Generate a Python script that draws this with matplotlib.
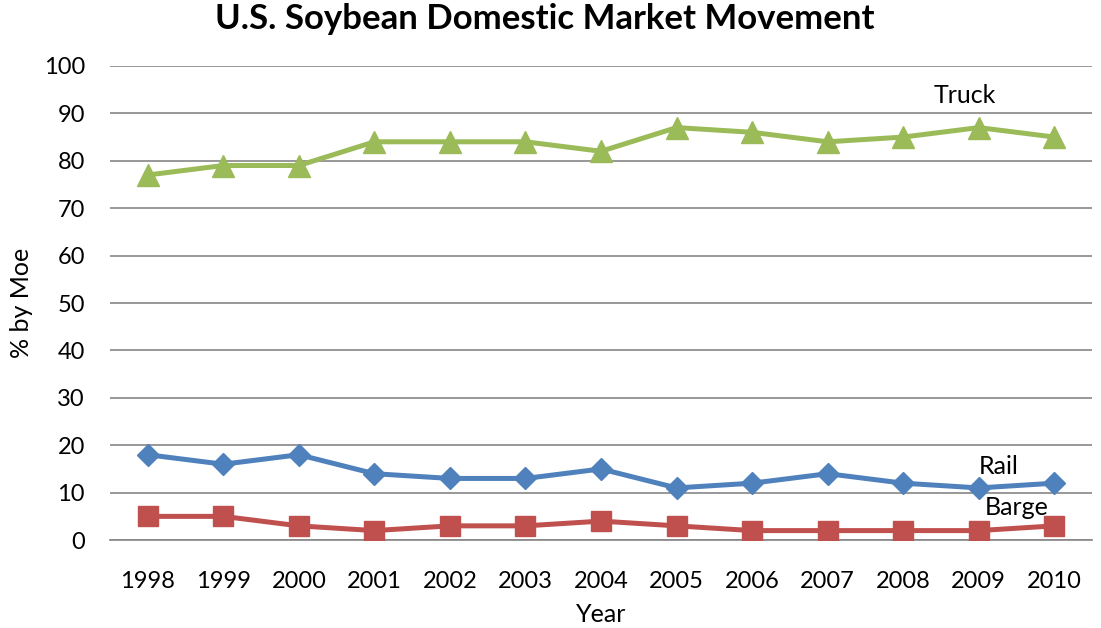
import matplotlib.pyplot as plt

plt.rcParams['font.family'] = ['Lato', 'DejaVu Sans']

# Дані
years = ['1998', '1999', '2000', '2001', '2002', '2003', '2004',
         '2005', '2006', '2007', '2008', '2009', '2010']
truck = [77, 79, 79, 84, 84, 84, 82, 87, 86, 84, 85, 87, 85]
rail = [18, 16, 18, 14, 13, 13, 15, 11, 12, 14, 12, 11, 12]
barge = [5, 5, 3, 2, 3, 3, 4, 3, 2, 2, 2, 2, 3]

fig = plt.figure(figsize=(11.01, 6.28), dpi=100)
ax = fig.add_axes([0.0999, 0.140, 0.892, 0.755])

x = range(len(years))
ax.plot(x, rail, color='#4F81BD', lw=3.6, marker='D', ms=11, zorder=3)
ax.plot(x, barge, color='#C0504D', lw=3.6, marker='s', ms=14, zorder=3)
ax.plot(x, truck, color='#9BBB59', lw=3.6, marker='^', ms=16, zorder=3)

# підписи серій
ax.text(10.82, 93.7, 'Truck', fontsize=18, ha='center', va='center')
ax.text(11.26, 15.6, 'Rail', fontsize=18, ha='center', va='center')
ax.text(11.5, 6.9, 'Barge', fontsize=18, ha='center', va='center')

ax.set_xlim(-0.5, len(years) - 0.5)
ax.set_ylim(0, 100)
ax.set_yticks(range(0, 101, 10))
ax.set_xticks(list(x))
ax.set_xticklabels(years)
ax.tick_params(axis='both', length=0, labelsize=17)
ax.tick_params(axis='x', pad=22)
ax.tick_params(axis='y', pad=18)
ax.grid(axis='y', color='#868686', lw=1.2)
ax.set_axisbelow(True)
for s in ['left', 'right', 'top']:
    ax.spines[s].set_visible(False)
ax.spines['bottom'].set_color('#868686')
ax.spines['bottom'].set_linewidth(1.2)

ax.set_xlabel('Year', fontsize=18, labelpad=8)
ax.set_ylabel('% by Moe', fontsize=18)
ax.yaxis.set_label_coords(-0.078, 0.5)
fig.suptitle('U.S. Soybean Domestic Market Movement', fontsize=25,
             fontweight='bold', x=0.495, y=0.995)

fig.savefig('out.png', dpi=100)
